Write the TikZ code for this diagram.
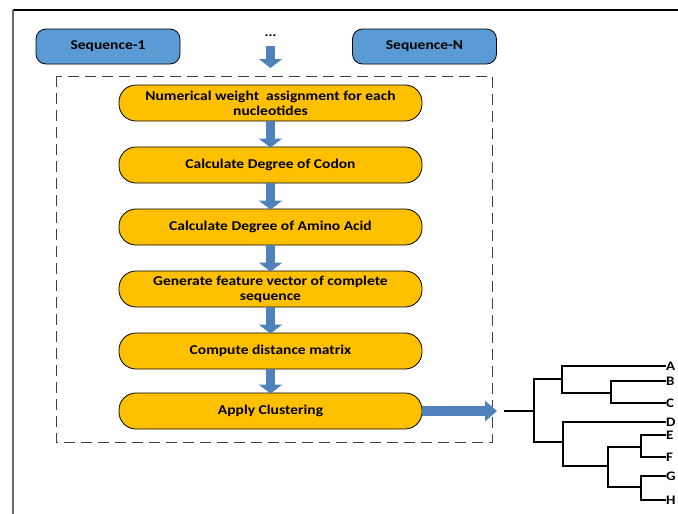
\documentclass[tikz,border=0pt]{standalone}
\usepackage{fontspec}
\setmainfont{Carlito}[FakeStretch=1.15]
\usetikzlibrary{arrows.meta}
\definecolor{seqblue}{HTML}{5B9BD5}
\definecolor{stepyellow}{HTML}{FFC000}
\definecolor{flowblue}{HTML}{4F81BD}
\definecolor{framegray}{HTML}{6A6A6A}
\tikzset{
  seqbox/.style={draw=black, line width=0.8pt, fill=seqblue, rounded corners=10pt,
    minimum width=144pt, minimum height=35pt, inner sep=0pt,
    font=\bfseries\fontsize{13.5}{15}\selectfont},
  stepbox/.style={draw=black, line width=0.8pt, fill=stepyellow, rounded corners=17pt,
    minimum width=303pt, minimum height=36pt, inner sep=0pt, align=center,
    font=\bfseries\fontsize{13.5}{15}\selectfont},
  flowarrow/.style={draw=flowblue, line width=9pt,
    -{Triangle[length=9pt,width=23pt]}, shorten >=0pt},
  bigarrow/.style={draw=flowblue, line width=10pt,
    -{Triangle[length=12pt,width=20pt]}},
  tree/.style={draw=black, line width=1.2pt},
  leaf/.style={anchor=west, inner sep=0pt, font=\bfseries\fontsize{13}{14}\selectfont},
  groupbox/.style={draw=black!75, line width=1pt, dash pattern=on 11pt off 6pt},
}
\begin{document}
\begin{tikzpicture}[x=1pt,y=-1pt]
\useasboundingbox (0,0) rectangle (678,514);

% page frame (top and left rules)
\draw[black, line width=1.2pt] (13,10) -- (678,10);
\draw[framegray, line width=2.2pt] (13,10) -- (13,514);

% input sequences
\node[seqbox] (seq1) at (108,46.5) {Sequence-1};
\node[seqbox] (seqN) at (424.5,46.5) {Sequence-N};
\node[font=\bfseries\fontsize{13}{13}\selectfont, inner sep=0pt] (dots) at (270.5,36) {...};

% processing group
\draw[groupbox] (56,76) rectangle (492,442);

% processing steps
\node[stepbox] (s1) at (270.5,103) {Numerical weight~ assignment for each\\nucleotides};
\node[stepbox] (s2) at (270.5,165) {Calculate Degree of Codon};
\node[stepbox] (s3) at (270.5,227) {Calculate Degree of Amino Acid};
\node[stepbox] (s4) at (270.5,289) {Generate feature vector of complete\\sequence};
\node[stepbox] (s5) at (270.5,351) {Compute distance matrix};
\node[stepbox] (s6) at (270.5,411) {Apply Clustering};

% block arrows between steps
\coordinate (inTop) at (270.5,46);
\coordinate (inTip) at (270.5,68);
\draw[flowarrow] (inTop) -- (inTip);
\draw[flowarrow] (s1.south) -- ([yshift=-1pt]s2.north);
\draw[flowarrow] (s2.south) -- ([yshift=-1pt]s3.north);
\draw[flowarrow] (s3.south) -- ([yshift=-1pt]s4.north);
\draw[flowarrow] (s4.south) -- ([yshift=-1pt]s5.north);
\draw[flowarrow] (s5.south) -- ([yshift=-1pt]s6.north);

% output arrow to the dendrogram
\coordinate (outTip) at (497,411);
\draw[bigarrow] (s6.east) -- (outTip);

% dendrogram leaves
\node[leaf] (A) at (666,366) {A};
\node[leaf] (B) at (666,381) {B};
\node[leaf] (C) at (666,403) {C};
\node[leaf] (D) at (666,422) {D};
\node[leaf] (E) at (666,435) {E};
\node[leaf] (F) at (666,457) {F};
\node[leaf] (G) at (666,476) {G};
\node[leaf] (H) at (666,500) {H};

% dendrogram branches
\coordinate (root) at (504,411);
\draw[black, line width=2.2pt] (root) -- (534,411);
\draw[tree] (562,379) -- (534,379) -- (534,442) -- (563,442);
\draw[tree] (A.west) -- (562,366) -- (562,393) -- (611,393);
\draw[tree] (B.west) -- (611,381) -- (611,403) -- (C.west);
\draw[tree] (D.west) -- (563,422) -- (563,466) -- (608,466);
\draw[tree] (641,447) -- (608,447) -- (608,487) -- (641,487);
\draw[tree] (E.west) -- (641,435) -- (641,457) -- (F.west);
\draw[tree] (G.west) -- (641,476) -- (641,500) -- (H.west);
\end{tikzpicture}
\end{document}
